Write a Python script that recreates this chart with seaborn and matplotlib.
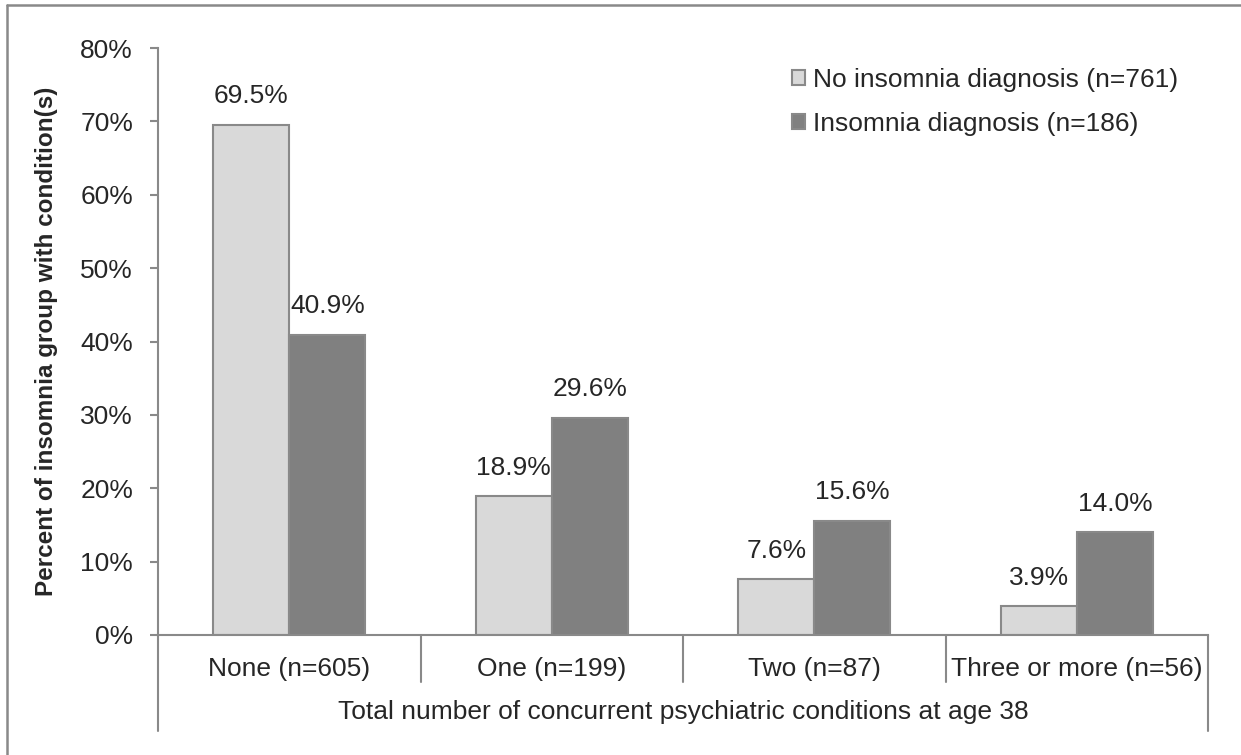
import numpy as np
import pandas as pd
import matplotlib.pyplot as plt
import seaborn as sns
from matplotlib.lines import Line2D

categories = ['None (n=605)', 'One (n=199)', 'Two (n=87)', 'Three or more (n=56)']
groups = ['No insomnia diagnosis (n=761)', 'Insomnia diagnosis (n=186)']
no_insomnia = [69.5, 18.9, 7.6, 3.9]
insomnia = [40.9, 29.6, 15.6, 14.0]
y_ticks = [0, 10, 20, 30, 40, 50, 60, 70, 80]

df = pd.DataFrame({
    'category': categories * 2,
    'group': [groups[0]] * 4 + [groups[1]] * 4,
    'value': no_insomnia + insomnia,
})

sns.set_style('white')
plt.rcParams['font.family'] = ['Liberation Sans', 'DejaVu Sans']

grey = '#898989'
W, H = 1241, 755
fig = plt.figure(figsize=(W / 100, H / 100), dpi=100)
ax = fig.add_axes([158 / W, 1 - 635 / H, (1208 - 158) / W, (635 - 48) / H])

sns.barplot(data=df, x='category', y='value', hue='group', order=categories,
            hue_order=groups, palette=['#d9d9d9', '#808080'], width=0.58,
            edgecolor=grey, linewidth=1.5, ax=ax, saturation=1)

for cont in ax.containers:
    ax.bar_label(cont, labels=['%.1f%%' % b.get_height() for b in cont],
                 padding=12, fontsize=19)

ax.set_ylim(0, 80)
ax.set_yticks(y_ticks)
ax.set_yticklabels(['%d%%' % t for t in y_ticks], fontsize=19)
ax.set_xlim(-0.5, 3.5)
ax.tick_params(axis='y', length=6, width=1.5, color=grey, pad=12, left=True)
ax.tick_params(axis='x', length=0, pad=16, labelsize=19)

for s in ['top', 'right']:
    ax.spines[s].set_visible(False)
for s in ['left', 'bottom']:
    ax.spines[s].set_color(grey)
    ax.spines[s].set_linewidth(1.5)

# category separators below axis, plus outer lines down to title area
tr = ax.get_xaxis_transform()
for xs in [0.5, 1.5, 2.5]:
    ax.plot([xs, xs], [0, -0.080], transform=tr, color=grey, lw=1.5, clip_on=False)
for xs in [-0.5, 3.5]:
    ax.plot([xs, xs], [0, -0.1635], transform=tr, color=grey, lw=1.5, clip_on=False)

ax.set_xlabel('')
ax.text(0.5, (635 - 712) / 587, 'Total number of concurrent psychiatric conditions at age 38',
        transform=ax.transAxes, ha='center', va='center', fontsize=19)

ax.set_ylabel('Percent of insomnia group with condition(s)', fontsize=17.5,
              fontweight='bold')
ax.yaxis.set_label_coords((58 - 158) / 1050, 0.5)

ax.legend(frameon=False, loc='upper left', bbox_to_anchor=(792 / W, 1 - 68 / H),
          bbox_transform=fig.transFigure, borderpad=0, borderaxespad=0,
          handlelength=0.5, handleheight=0.5, handletextpad=0.3,
          labelspacing=0.75, fontsize=19)
for h in ax.get_legend().legend_handles:
    h.set_edgecolor(grey)

fig.add_artist(Line2D([7 / W, 7 / W], [0, 1 - 5 / H], color=grey, lw=1.8))
fig.add_artist(Line2D([7 / W, 1], [1 - 5 / H, 1 - 5 / H], color=grey, lw=1.8))

fig.savefig('out.png', dpi=100)
